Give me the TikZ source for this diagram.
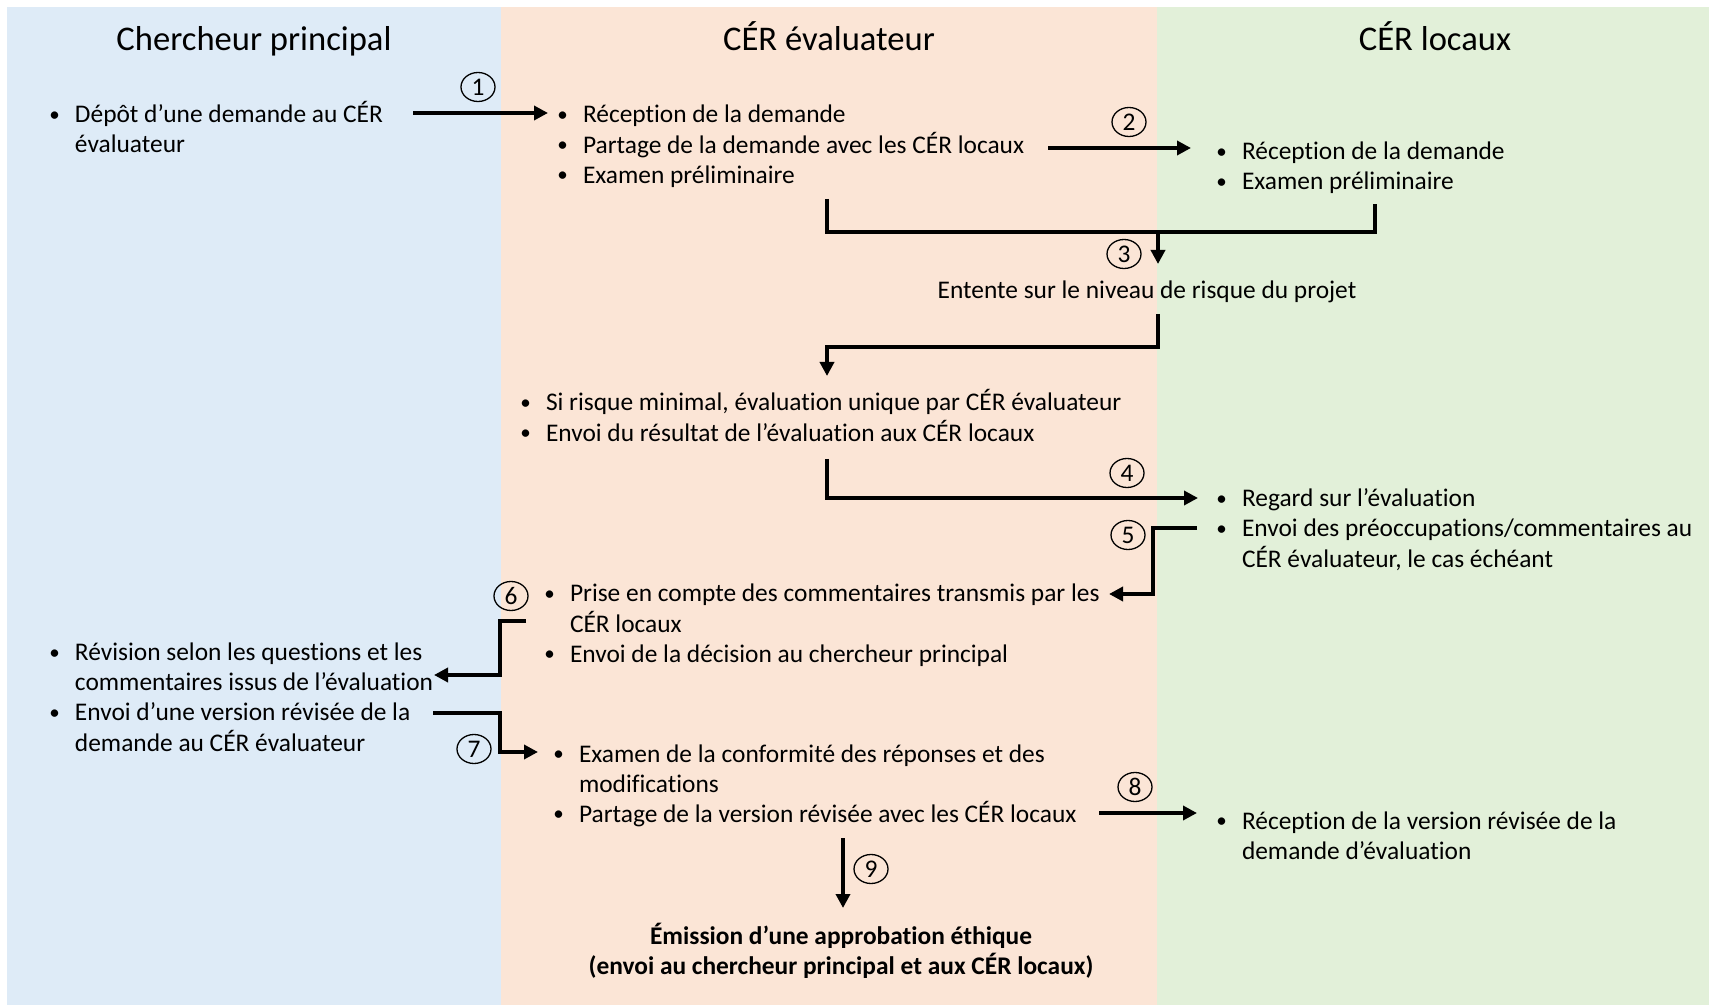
\documentclass[tikz,border=0pt]{standalone}
\usepackage{fontspec}
\setmainfont[Ligatures={TeX,NoCommon}]{Carlito}
\usetikzlibrary{shapes.geometric,arrows.meta}
\definecolor{chercheur}{RGB}{222,235,247}
\definecolor{evaluateur}{RGB}{251,229,214}
\definecolor{locaux}{RGB}{226,240,217}
\newcommand{\puce}{\makebox[13.3pt][l]{\hspace{0.5pt}\raisebox{0.8pt}{\fontsize{10.5}{10.5}\selectfont\textbullet}}}
\newcommand{\suite}{\hspace*{13.3pt}}
\tikzstyle{bloc}=[anchor=base west, inner sep=0pt, font=\fontsize{12.7}{15}\selectfont]
\tikzstyle{titre}=[anchor=base, inner sep=0pt, font=\fontsize{17.3}{20}\selectfont]
\tikzset{etape/.style={ellipse, draw, line width=.65pt, minimum width=17pt, minimum height=14.5pt, inner sep=0pt, font=\fontsize{12.7}{15}\selectfont}}
\tikzset{fleche/.style={-{Triangle[length=7pt,width=7pt]}, line width=1.75pt}}
\tikzset{trait/.style={line width=1.75pt}}

\begin{document}
\begin{tikzpicture}[x=0.5pt,y=-0.5pt]
  \useasboundingbox (0,0) rectangle (1709,1005);
  %% Columns
  \fill[chercheur] (7,7) rectangle (501,1005);
  \fill[evaluateur] (501,7) rectangle (1157,1005);
  \fill[locaux] (1157,7) rectangle (1709,1005);

  \draw (254,51) node[titre] (T1) {Chercheur principal};
  \draw (829,51) node[titre] (T2) {CÉR évaluateur};
  \draw (1435,51) node[titre] (T3) {CÉR locaux};

  %% Steps
  \draw (48,123) node[bloc] (CP1) {\begin{tabular}[t]{@{}l@{}}\puce Dépôt d’une demande au CÉR\\\suite évaluateur\end{tabular}};
  \draw (556,123) node[bloc] (EV1) {\begin{tabular}[t]{@{}l@{}}\puce Réception de la demande\\\puce Partage de la demande avec les CÉR locaux\\\puce Examen préliminaire\end{tabular}};
  \draw (1215,160) node[bloc] (LOC1) {\begin{tabular}[t]{@{}l@{}}\puce Réception de la demande\\\puce Examen préliminaire\end{tabular}};
  \draw (1147,299) node[titre,font=\fontsize{12.7}{15}\selectfont] (RISQUE) {Entente sur le niveau de risque du projet};
  \draw (519,411) node[bloc] (EV2) {\begin{tabular}[t]{@{}l@{}}\puce Si risque minimal, évaluation unique par CÉR évaluateur\\\puce Envoi du résultat de l’évaluation aux CÉR locaux\end{tabular}};
  \draw (1215,507) node[bloc] (LOC2) {\begin{tabular}[t]{@{}l@{}}\puce Regard sur l’évaluation\\\puce Envoi des préoccupations/commentaires au\\\suite CÉR évaluateur, le cas échéant\end{tabular}};
  \draw (543,602) node[bloc] (EV3) {\begin{tabular}[t]{@{}l@{}}\puce Prise en compte des commentaires transmis par les\\\suite CÉR locaux\\\puce Envoi de la décision au chercheur principal\end{tabular}};
  \draw (48,661) node[bloc] (CP2) {\begin{tabular}[t]{@{}l@{}}\puce Révision selon les questions et les\\\suite commentaires issus de l’évaluation\\\puce Envoi d’une version révisée de la\\\suite demande au CÉR évaluateur\end{tabular}};
  \draw (552,762) node[bloc] (EV4) {\begin{tabular}[t]{@{}l@{}}\puce Examen de la conformité des réponses et des\\\suite modifications\\\puce Partage de la version révisée avec les CÉR locaux\end{tabular}};
  \draw (1215,829) node[bloc] (LOC3) {\begin{tabular}[t]{@{}l@{}}\puce Réception de la version révisée de la\\\suite demande d’évaluation\end{tabular}};
  \draw (841,944) node[titre,font=\fontsize{12.7}{14.5}\selectfont\bfseries] (APPROB) {\begin{tabular}[t]{@{}c@{}}Émission d’une approbation éthique\\(envoi au chercheur principal et aux CÉR locaux)\end{tabular}};

  %% Arrow ends
  \coordinate (F1a) at (413,113);
  \coordinate (F1b) at (548,113);
  \coordinate (F2a) at (1048,148);
  \coordinate (F2b) at (1191,148);
  \coordinate (F3g) at (827,199);
  \coordinate (F3d) at (1375,204);
  \coordinate (F3a) at (1158,232);
  \coordinate (F3b) at (1158,264);
  \coordinate (F3c) at (1158,314);
  \coordinate (F3e) at (827,376);
  \coordinate (F4a) at (827,459);
  \coordinate (F4b) at (1198,498);
  \coordinate (F5a) at (1197,528);
  \coordinate (F5b) at (1109,594);
  \coordinate (F6a) at (526,621);
  \coordinate (F6b) at (434,675);
  \coordinate (F7a) at (433,713);
  \coordinate (F7b) at (538,752);
  \coordinate (F8a) at (1099,813);
  \coordinate (F8b) at (1197,813);
  \coordinate (F9a) at (843,838);
  \coordinate (F9b) at (843,908);

  \draw[fleche] (F1a) -- (F1b);
  \draw[fleche] (F2a) -- (F2b);
  \draw[trait] (F3g) -- ++(0,33) -| (F3d);
  \draw[fleche] (F3a) -- (F3b);
  \draw[fleche] (F3c) -- ++(0,33) -| (F3e);
  \draw[fleche] (F4a) |- (F4b);
  \draw[fleche] (F5a) -- ++(-44,0) |- (F5b);
  \draw[fleche] (F6a) -- ++(-26,0) |- (F6b);
  \draw[fleche] (F7a) -- ++(67,0) |- (F7b);
  \draw[fleche] (F8a) -- (F8b);
  \draw[fleche] (F9a) -- (F9b);

  %% Step numbers
  \draw (478,87) node[etape] (N1) {1};
  \draw (1129,122) node[etape] (N2) {2};
  \draw (1124,254) node[etape] (N3) {3};
  \draw (1127,473) node[etape] (N4) {4};
  \draw (1128,535) node[etape] (N5) {5};
  \draw (511,596) node[etape] (N6) {6};
  \draw (474,749) node[etape] (N7) {7};
  \draw (1135,787) node[etape] (N8) {8};
  \draw (871,869) node[etape] (N9) {9};
\end{tikzpicture}
\end{document}
